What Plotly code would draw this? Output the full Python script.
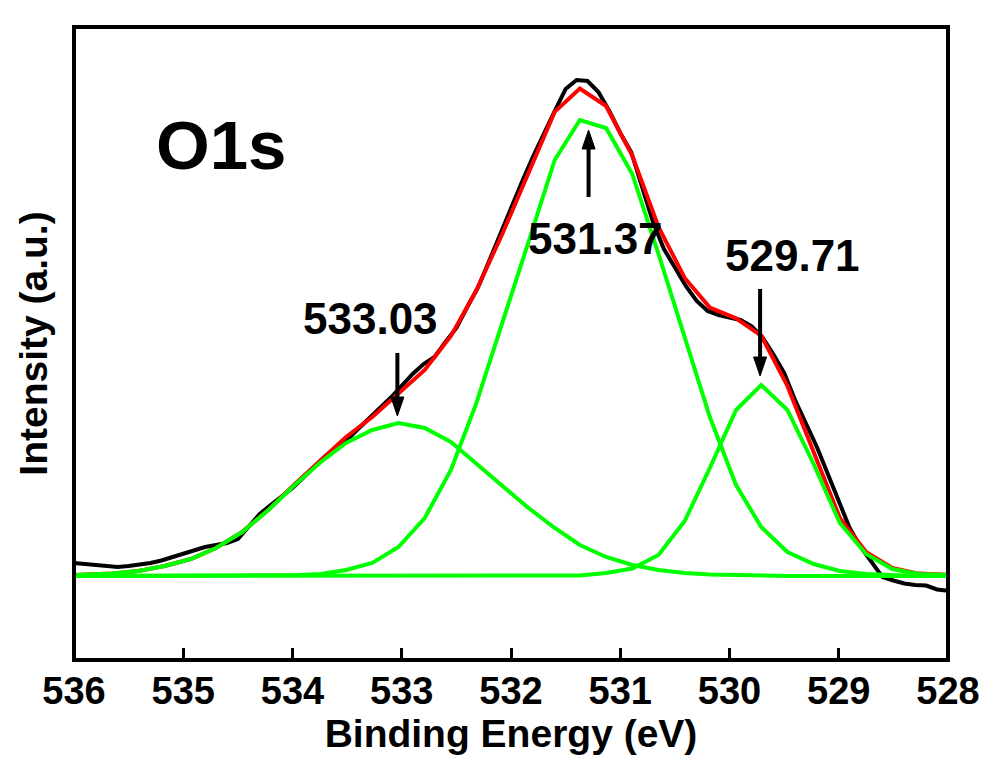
import plotly.graph_objects as go

# ---------------- data ----------------
# raw O1s spectrum (black)
energy_raw = [536.0, 535.9, 535.8, 535.7, 535.6, 535.5, 535.4, 535.3, 535.2, 535.1,
              535.0, 534.9, 534.8, 534.7, 534.6, 534.5, 534.4, 534.3, 534.2, 534.1,
              534.0, 533.9, 533.8, 533.7, 533.6, 533.5, 533.4, 533.3, 533.2, 533.1,
              533.0, 532.9, 532.8, 532.7, 532.6, 532.5, 532.4, 532.3, 532.2, 532.1,
              532.0, 531.9, 531.8, 531.7, 531.6, 531.5, 531.4, 531.3, 531.2, 531.1,
              531.0, 530.9, 530.8, 530.7, 530.6, 530.5, 530.4, 530.3, 530.2, 530.1,
              530.0, 529.9, 529.8, 529.7, 529.6, 529.5, 529.4, 529.3, 529.2, 529.1,
              529.0, 528.9, 528.8, 528.7, 528.6, 528.5, 528.4, 528.3, 528.2, 528.1,
              528.0]
intensity_raw = [97, 96, 95, 94, 93, 94, 95, 97, 99.5, 103,
                 106.5, 110, 113, 115, 117, 121, 133, 146, 155, 164,
                 172, 182.5, 193, 204, 212, 220, 231, 242, 252, 262.5,
                 274, 286, 296, 303, 318, 332, 353, 373, 399, 426,
                 452, 478, 503, 527, 549, 571, 580, 579, 568, 549,
                 527, 508, 474, 438, 411, 392, 374, 359, 349, 345,
                 343, 340, 334, 323, 306, 287, 260, 237, 213, 186,
                 158, 132, 113, 98, 83, 79.5, 76.5, 75, 74.5, 70.5,
                 69.3]

# fitted components (green), sampled on the fit grid
energy_fit = [536.12, 535.89, 535.65, 535.41, 535.17, 534.93, 534.70, 534.46, 534.22,
              533.98, 533.74, 533.51, 533.27, 533.03, 532.79, 532.55, 532.32, 532.08,
              531.84, 531.60, 531.37, 531.13, 530.89, 530.65, 530.41, 530.18, 529.94,
              529.71, 529.47, 529.23, 528.99, 528.75, 528.51, 528.27, 528.03, 527.80]
BASELINE = 84
peak_533 = [84.5, 85, 86.5, 89, 94, 101, 112, 128, 150,
            175, 198, 217, 230, 237, 232, 218, 197, 174,
            152, 132, 115, 103, 95, 90, 87, 85.5, 84.7,
            84.3, 84.1, 84, 84, 84, 84, 84, 84, 84]
peak_531 = [84, 84, 84, 84, 84, 84, 84, 84.1, 84.3,
            84.8, 86, 90, 97, 113, 142, 190, 256, 336,
            418, 500, 540, 532, 486, 406, 324, 243, 175,
            133, 108, 96, 89, 86, 85, 84.4, 84.2, 84.1]
peak_529 = [84, 84, 84, 84, 84, 84, 84, 84, 84,
            84, 84, 84, 84, 84, 84, 84, 84, 84,
            84, 84.1, 84.5, 87, 91.5, 105, 139, 192, 250,
            275, 250, 196, 137, 106, 91, 86, 84.5, 84.1]
# cumulative fit envelope (red) = baseline + sum of the three components
fit_envelope = [a + b + c - 2 * BASELINE for a, b, c in zip(peak_533, peak_531, peak_529)]

peak_labels = ["533.03", "531.37", "529.71"]
tick_values = [536, 535, 534, 533, 532, 531, 530, 529, 528]
tick_labels = ["536", "535", "534", "533", "532", "531", "530", "529", "528"]

# ---------------- figure ----------------
FONT = "Liberation Sans, Arial, Helvetica, sans-serif"
GREEN = "#00FF00"

fig = go.Figure()
fig.add_trace(go.Scatter(x=energy_raw, y=intensity_raw, mode="lines",
                         line=dict(color="black", width=4), showlegend=False))
fig.add_trace(go.Scatter(x=energy_fit, y=fit_envelope, mode="lines",
                         line=dict(color="#FF0000", width=4), showlegend=False))
for comp in (peak_533, peak_531, peak_529):
    fig.add_trace(go.Scatter(x=energy_fit, y=comp, mode="lines",
                             line=dict(color=GREEN, width=4), showlegend=False))

# peak labels and arrows
label_pos = [(533.29, 342), (531.23, 422), (529.42, 405)]
arrows = [  # (x, tail_y, tip_y)
    (533.04, 307, 244),
    (531.29, 463, 530),
    (529.72, 371, 284),
]
HEAD_LEN = 19
HEAD_HALF = 6.5
for text, (lx, ly) in zip(peak_labels, label_pos):
    fig.add_annotation(x=lx, y=ly, text=f"<b>{text}</b>", showarrow=False,
                       font=dict(family=FONT, size=44, color="black"),
                       xanchor="center", yanchor="middle")
for ax_, tail, tip in arrows:
    down = tip < tail
    shaft_end = tip + (HEAD_LEN - 2) * (1 if down else -1)
    fig.add_shape(type="line", x0=ax_, x1=ax_, y0=tail, y1=shaft_end,
                  xref="x", yref="y", line=dict(color="black", width=4))
    s = 1 if down else -1
    fig.add_shape(type="path", xref="x", yref="y",
                  xsizemode="pixel", ysizemode="pixel", xanchor=ax_, yanchor=tip,
                  path=f"M {-HEAD_HALF},{s*HEAD_LEN} L {HEAD_HALF},{s*HEAD_LEN} L 0,0 Z",
                  fillcolor="black", line=dict(color="black", width=1))

fig.add_annotation(x=534.65, y=515, text="<b>O1s</b>", showarrow=False,
                   font=dict(family=FONT, size=69, color="black"),
                   xanchor="center", yanchor="middle")

# frame centred on the plot-area edges
fig.add_shape(type="rect", xref="paper", yref="paper", x0=0, x1=1, y0=0, y1=1,
              line=dict(color="black", width=4), layer="above")

fig.update_layout(
    width=986, height=762,
    margin=dict(l=74, r=38, t=27, b=102, autoexpand=False),
    paper_bgcolor="white", plot_bgcolor="white",
    font=dict(family=FONT, color="black"),
    xaxis=dict(
        range=[536, 528], tickvals=tick_values, ticktext=tick_labels,
        ticks="inside", ticklen=12, tickwidth=3, tickcolor="black",
        showline=False, showgrid=False, zeroline=False, automargin=False,
        ticklabelstandoff=5,
        tickfont=dict(family=FONT, size=38, color="black", weight="bold"),
        title=dict(text="<b>Binding Energy (eV)</b>", standoff=8,
                   font=dict(family=FONT, size=39, color="black")),
    ),
    yaxis=dict(
        range=[0, 633], showticklabels=False, ticks="",
        showline=False, showgrid=False, zeroline=False, automargin=False,
        title=dict(text="<b>Intensity (a.u.)</b>", standoff=13,
                   font=dict(family=FONT, size=39, color="black")),
    ),
)

fig.write_html("out.html", config={"displayModeBar": False},
               post_script="document.body.style.margin='0px';")
